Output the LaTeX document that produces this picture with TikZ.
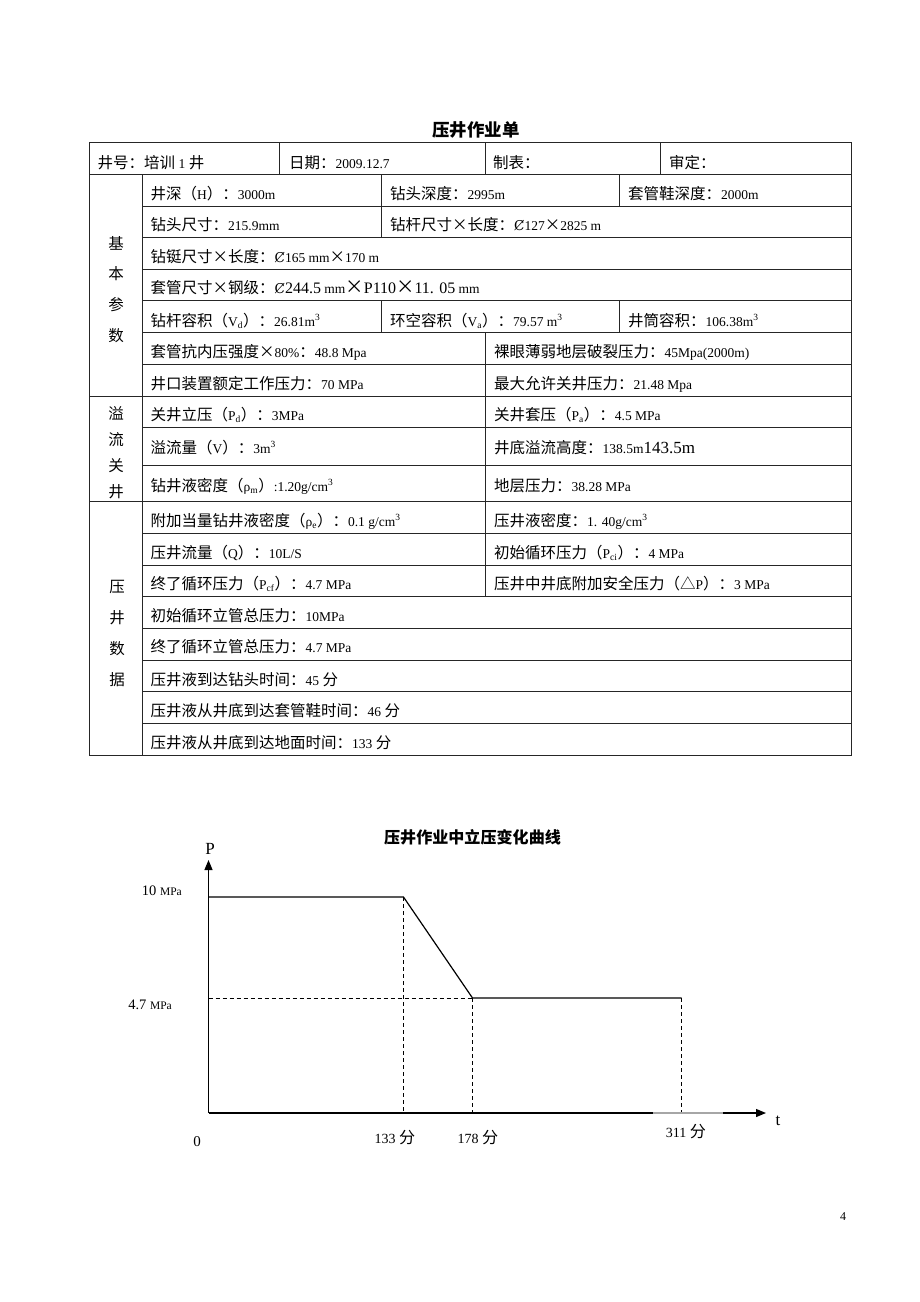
\documentclass[tikz,border=0pt]{standalone}
\usepackage{fontspec}
\setmainfont{Liberation Serif}
\newfontfamily\cjk[Scale=1.148]{Noto Sans CJK SC}
\newfontfamily\dvs{DejaVu Serif}
\usetikzlibrary{arrows.meta}
% automatic switch between Latin and CJK fonts
\XeTeXinterchartokenstate=1
\newXeTeXintercharclass\CJKcls
\newXeTeXintercharclass\SYMcls
\newcount\mycnt
\mycnt="4E00 \loop \XeTeXcharclass\mycnt=\CJKcls \ifnum\mycnt<"9FFF \advance\mycnt by 1 \repeat
\mycnt="3000 \loop \XeTeXcharclass\mycnt=\CJKcls \ifnum\mycnt<"303F \advance\mycnt by 1 \repeat
\mycnt="FF00 \loop \XeTeXcharclass\mycnt=\CJKcls \ifnum\mycnt<"FFEF \advance\mycnt by 1 \repeat
\XeTeXcharclass"25B3=\CJKcls
\XeTeXcharclass"00D7=\CJKcls
\XeTeXcharclass"023B=\SYMcls
\XeTeXinterchartoks 0 \CJKcls={\cjk}
\XeTeXinterchartoks 4095 \CJKcls={\cjk}
\XeTeXinterchartoks \SYMcls \CJKcls={\cjk}
\XeTeXinterchartoks \CJKcls 0={\rmfamily}
\XeTeXinterchartoks 4095 0={\rmfamily}
\XeTeXinterchartoks \SYMcls 0={\rmfamily}
\newcommand{\dia}{{\dvs Ȼ}}
\tikzset{
  grid/.style={line width=0.9pt, draw=black!85},
  txt/.style={anchor=base west, inner sep=0pt, font=\fontsize{13.5}{16}\selectfont},
  cat/.style={anchor=center, inner sep=0pt, font=\fontsize{13.5}{16}\selectfont},
  ttl/.style={anchor=center, inner sep=0pt, font=\fontsize{15.2}{18}\selectfont\bfseries},
  axisline/.style={line width=1.2pt},
  curve/.style={line width=1.2pt},
  guide/.style={line width=1pt, dash pattern=on 4pt off 3pt},
  lbl/.style={inner sep=0pt, font=\fontsize{14}{16}\selectfont},
  tip/.style={-{Triangle[length=10pt,width=8pt]}}
}
\begin{document}
\begin{tikzpicture}[x=1pt,y=-1pt]
\useasboundingbox (0,0) rectangle (920,1302);
\fill[white] (0,0) rectangle (920,1302);

% ---------- table title ----------
\node[ttl] (title) at (476,130) {压井作业单};

% ---------- table grid ----------
\draw[grid] (89,142.5) rectangle (851,755);
\foreach \y in {174.5,396,501} \draw[grid] (89,\y) -- (851,\y);
\foreach \y in {206,237.5,269,300.5,332.5,364,427.5,465,533,565,596.5,628,660,691.5,723}
  \draw[grid] (142.5,\y) -- (851,\y);
\draw[grid] (142.5,174.5) -- (142.5,755);
\foreach \x in {279.5,485,660} \draw[grid] (\x,142.5) -- (\x,174.5);
\draw[grid] (381.5,174.5) -- (381.5,237.5);
\draw[grid] (381.5,300.5) -- (381.5,332.5);
\draw[grid] (619.5,174.5) -- (619.5,206);
\draw[grid] (619.5,300.5) -- (619.5,332.5);
\draw[grid] (485,332.5) -- (485,596.5);

% ---------- category labels ----------
\node[cat] (c1) at (116,243) {基};
\node[cat] (c2) at (116,274) {本};
\node[cat] (c3) at (116,305) {参};
\node[cat] (c4) at (116,336) {数};
\node[cat] (c5) at (116,413) {溢};
\node[cat] (c6) at (116,439.5) {流};
\node[cat] (c7) at (116,465.5) {关};
\node[cat] (c8) at (116,491.5) {井};
\node[cat] (c9) at (117,587) {压};
\node[cat] (c10) at (117,618) {井};
\node[cat] (c11) at (117,649) {数};
\node[cat] (c12) at (117,680) {据};

% ---------- cell texts ----------
\node[txt] (r1a) at (97.5,168) {井号：培训 1 井};
\node[txt] (r1b) at (289,168) {日期：2009.12.7};
\node[txt] (r1c) at (493,168) {制表：};
\node[txt] (r1d) at (669,168) {审定：};

\node[txt] (r2a) at (150.5,199) {井深（H）：3000m};
\node[txt] (r2b) at (390,199) {钻头深度：2995m};
\node[txt] (r2c) at (628,199) {套管鞋深度：2000m};

\node[txt] (r3a) at (150.5,230.5) {钻头尺寸：215.9mm};
\node[txt] (r3b) at (390,230.5) {钻杆尺寸×长度：\dia127×2825 m};

\node[txt] (r4a) at (150.5,262) {钻铤尺寸×长度：\dia165 mm×170 m};

\node[txt] (r5a) at (150.5,293.5) {套管尺寸×钢级：\dia{\fontsize{16}{18}\selectfont 244.5} mm{\fontsize{16}{18}\selectfont ×P110×11. 05} mm};

\node[txt] (r6a) at (150.5,326) {钻杆容积（V\textsubscript{d}）：26.81m\textsuperscript{3}};
\node[txt] (r6b) at (390,326) {环空容积（V\textsubscript{a}）：79.57 m\textsuperscript{3}};
\node[txt] (r6c) at (628,326) {井筒容积：106.38m\textsuperscript{3}};

\node[txt] (r7a) at (150.5,357.5) {套管抗内压强度×80\%：48.8 Mpa};
\node[txt] (r7b) at (494,357.5) {裸眼薄弱地层破裂压力：45Mpa(2000m)};

\node[txt] (r8a) at (150.5,389) {井口装置额定工作压力：70 MPa};
\node[txt] (r8b) at (494,389) {最大允许关井压力：21.48 Mpa};

\node[txt] (r9a) at (150.5,420.5) {关井立压（P\textsubscript{d}）：3MPa};
\node[txt] (r9b) at (494,420.5) {关井套压（P\textsubscript{a}）：4.5 MPa};

\node[txt] (r10a) at (150.5,453) {溢流量（V）：3m\textsuperscript{3}};
\node[txt] (r10b) at (494,453) {井底溢流高度：138.5m{\fontsize{17}{20}\selectfont 143.5m}};

\node[txt] (r11a) at (150.5,491) {钻井液密度（ρ\textsubscript{m}）:1.20g/cm\textsuperscript{3}};
\node[txt] (r11b) at (494,491) {地层压力：38.28 MPa};

\node[txt] (r12a) at (150.5,526) {附加当量钻井液密度（ρ\textsubscript{e}）：0.1 g/cm\textsuperscript{3}};
\node[txt] (r12b) at (494,526) {压井液密度：1. 40g/cm\textsuperscript{3}};

\node[txt] (r13a) at (150.5,558) {压井流量（Q）：10L/S};
\node[txt] (r13b) at (494,558) {初始循环压力（P\textsubscript{ci}）：4 MPa};

\node[txt] (r14a) at (150.5,589) {终了循环压力（P\textsubscript{cf}）：4.7 MPa};
\node[txt] (r14b) at (494,589) {压井中井底附加安全压力（△P）：3 MPa};

\node[txt] (r15a) at (150.5,621.5) {初始循环立管总压力：10MPa};
\node[txt] (r16a) at (150.5,652.5) {终了循环立管总压力：4.7 MPa};
\node[txt] (r17a) at (150.5,685) {压井液到达钻头时间：45 分};
\node[txt] (r18a) at (150.5,716) {压井液从井底到达套管鞋时间：46 分};
\node[txt] (r19a) at (150.5,748) {压井液从井底到达地面时间：133 分};

% ---------- chart ----------
\node[ttl,font=\fontsize{14}{17}\selectfont\bfseries] (ctitle) at (472.5,837) {压井作业中立压变化曲线};

\coordinate (O) at (208.5,1113);
\coordinate (Ytip) at (208.5,860);
\coordinate (A) at (208.5,897);
\coordinate (B) at (403.5,897);
\coordinate (C) at (472.5,998);
\coordinate (D) at (681.5,998);
\coordinate (E) at (208.5,998);
\coordinate (B0) at (403.5,1113);
\coordinate (C0) at (472.5,1113);
\coordinate (D0) at (681.5,1113);
\coordinate (X1) at (653,1113);
\coordinate (X2) at (723,1113);
\coordinate (Xtip) at (766,1113);

\draw[guide] (E) -- (C);
\draw[guide] (B) -- (B0);
\draw[guide] (C) -- (C0);
\draw[guide] (D) -- (D0);
\draw[axisline,tip] (O) -- (Ytip);
\draw[axisline] (O) -- (X1);
\draw[axisline,draw=black!35] (X1) -- (X2);
\draw[axisline,tip] (X2) -- (Xtip);
\draw[curve,line join=miter] (A) -- (B) -- (C) -- (D);

\node[lbl,font=\fontsize{17}{19}\selectfont] (lP) at (210,849) {P};
\node[lbl,font=\fontsize{17}{19}\selectfont] (lt) at (778,1121) {t};
\node[lbl,font=\fontsize{15}{17}\selectfont] (l0) at (197,1142) {0};
\node[lbl,anchor=east,font=\fontsize{14.5}{17}\selectfont] (l10) at (182,891) {10 {\fontsize{11.5}{13}\selectfont MPa}};
\node[lbl,anchor=east,font=\fontsize{14.5}{17}\selectfont] (l47) at (172,1005) {4.7 {\fontsize{11.5}{13}\selectfont MPa}};
\node[lbl] (t133) at (395,1138) {133 分};
\node[lbl] (t178) at (478,1138) {178 分};
\node[lbl] (t311) at (686,1132) {311 分};

\node[lbl,font=\fontsize{12}{14}\selectfont] (pg) at (843,1217) {4};
\end{tikzpicture}
\end{document}
